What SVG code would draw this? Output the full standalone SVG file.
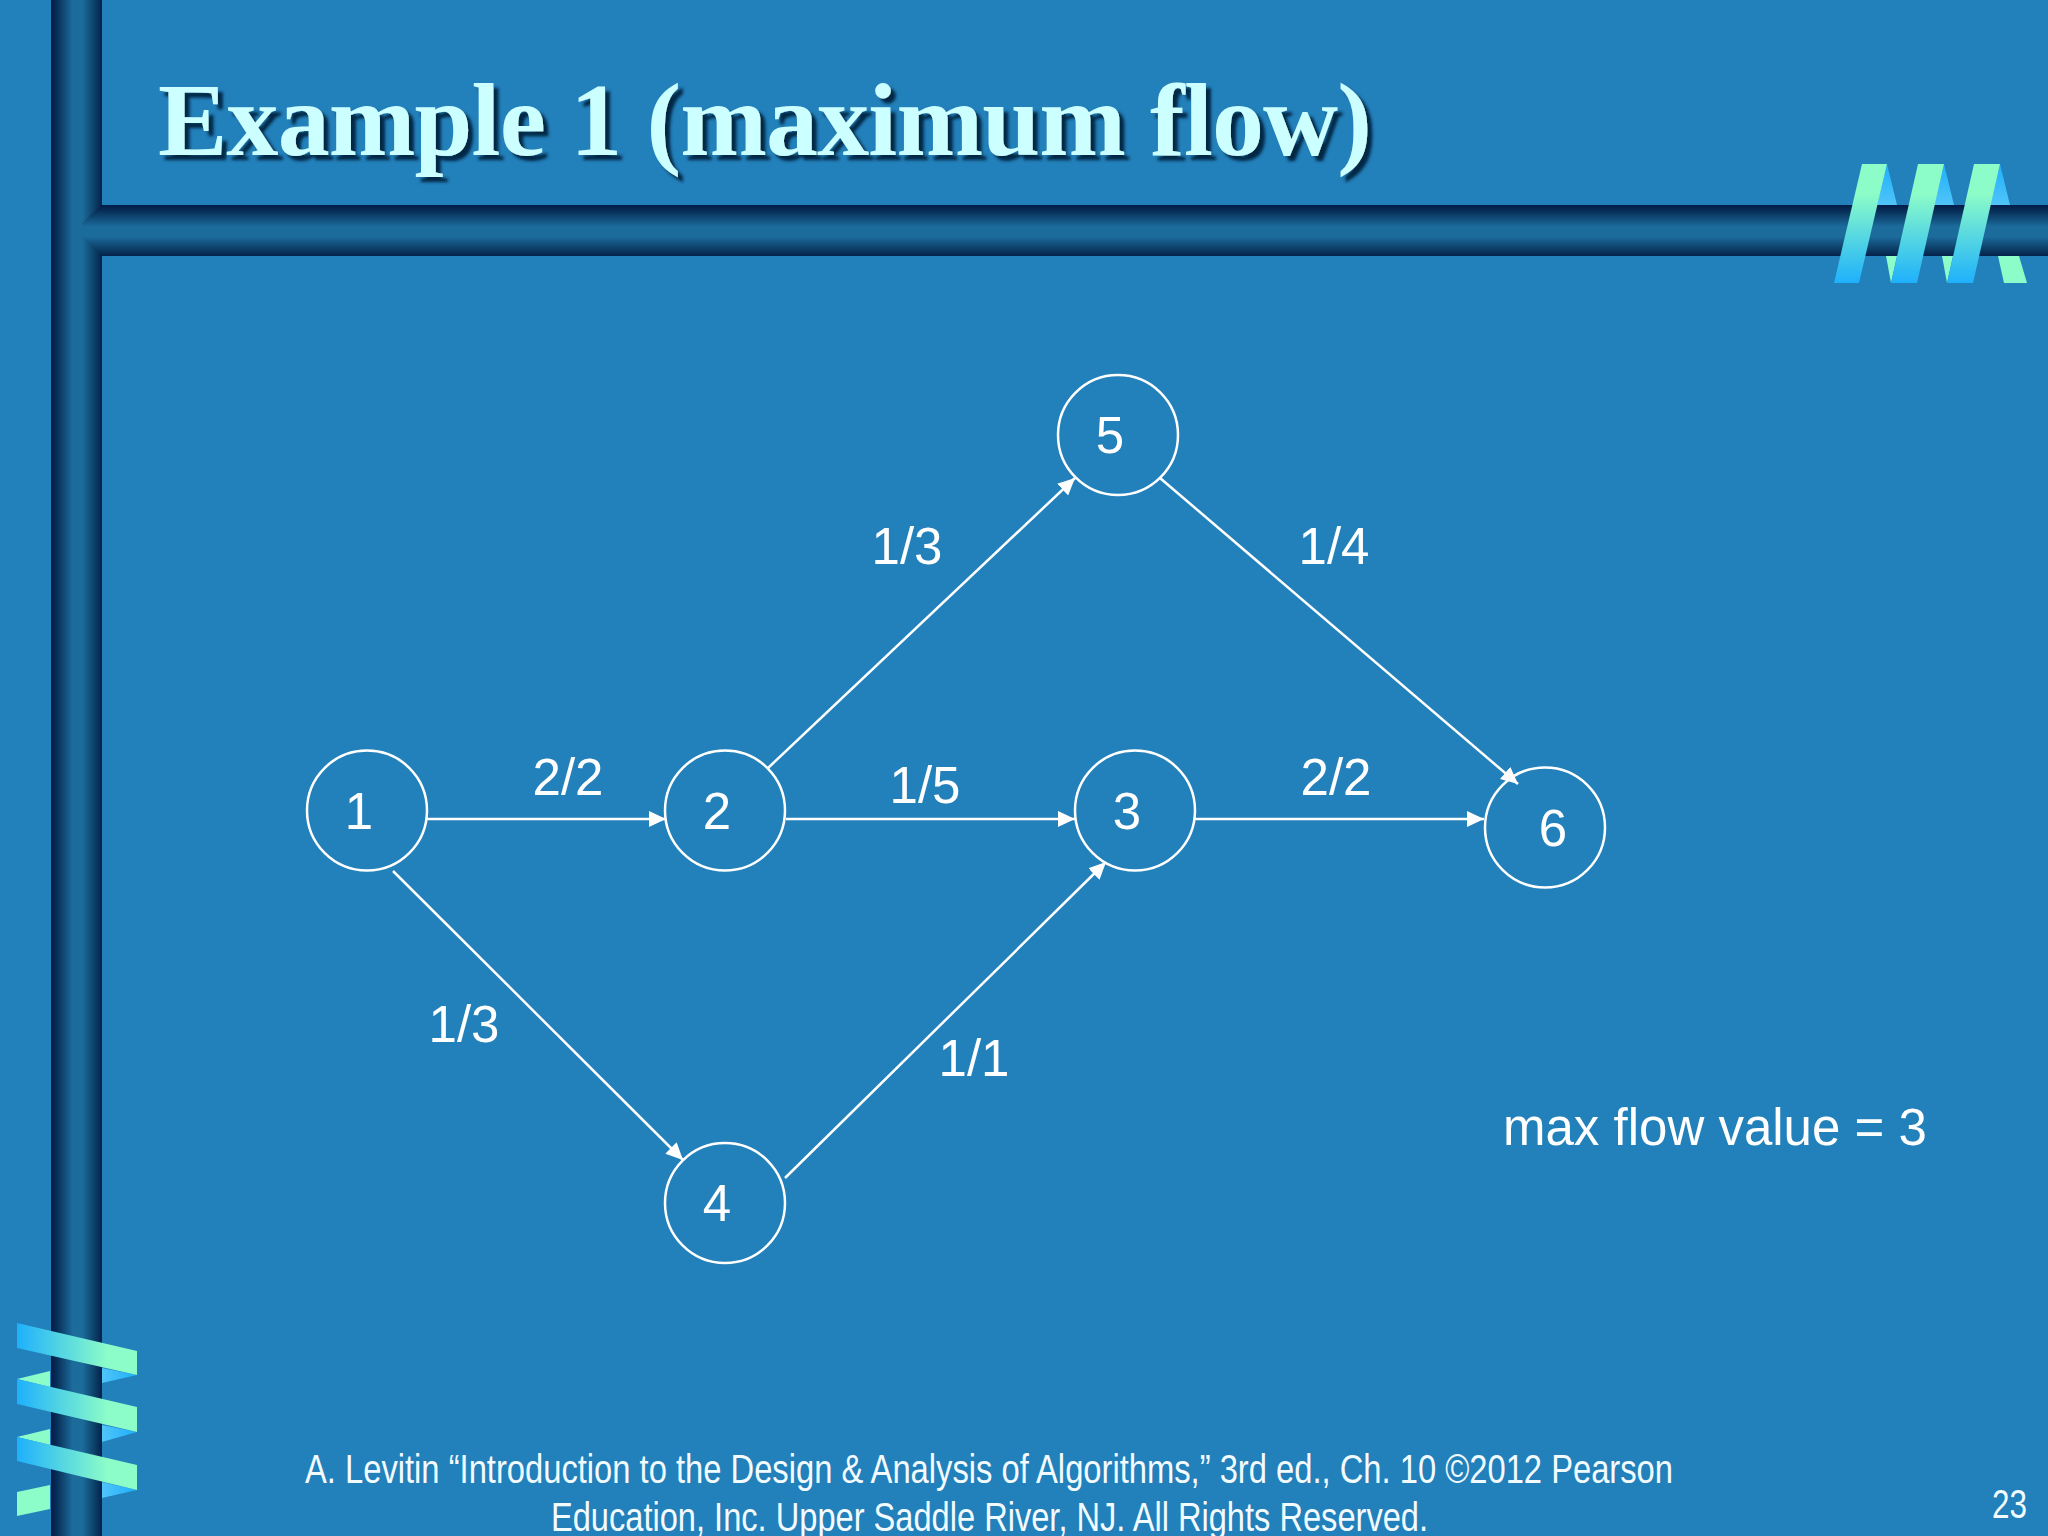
<svg xmlns="http://www.w3.org/2000/svg" width="2048" height="1536" viewBox="0 0 2048 1536">
<defs>
<linearGradient id="barV" x1="0" y1="0" x2="1" y2="0"><stop offset="0" stop-color="#021c48"/><stop offset=".12" stop-color="#072f58"/><stop offset=".42" stop-color="#1b6b9b"/><stop offset=".62" stop-color="#1b6b9b"/><stop offset=".88" stop-color="#0b3a62"/><stop offset="1" stop-color="#04224c"/></linearGradient>
<linearGradient id="barH" x1="0" y1="0" x2="0" y2="1"><stop offset="0" stop-color="#021c48"/><stop offset=".12" stop-color="#072f58"/><stop offset=".42" stop-color="#1b6b9b"/><stop offset=".62" stop-color="#1b6b9b"/><stop offset=".88" stop-color="#0b3a62"/><stop offset="1" stop-color="#04224c"/></linearGradient>
<linearGradient id="ribT" gradientUnits="userSpaceOnUse" x1="0" y1="164" x2="0" y2="283"><stop offset="0" stop-color="#8cfcc8"/><stop offset=".25" stop-color="#8cfcc8"/><stop offset="1" stop-color="#1eb0fc"/></linearGradient>
<linearGradient id="ribB" gradientUnits="userSpaceOnUse" x1="0" y1="164" x2="0" y2="205"><stop offset="0" stop-color="#1eb0fc"/><stop offset="1" stop-color="#50c4f8"/></linearGradient>
<linearGradient id="ribL" gradientUnits="userSpaceOnUse" x1="17" y1="0" x2="137" y2="0"><stop offset="0" stop-color="#1eb0fc"/><stop offset=".75" stop-color="#8cfcc8"/><stop offset="1" stop-color="#8cfcc8"/></linearGradient>
<linearGradient id="ribS" gradientUnits="userSpaceOnUse" x1="102" y1="0" x2="137" y2="0"><stop offset="0" stop-color="#50c4f8"/><stop offset="1" stop-color="#1eb0fc"/></linearGradient>
<marker id="arrow" viewBox="0 0 17 16" refX="17" refY="8" markerWidth="17" markerHeight="16" markerUnits="userSpaceOnUse" orient="auto"><path d="M0 0L17 8L0 16Z" fill="#fff"/></marker>
<filter id="shadow" x="-5%" y="-20%" width="110%" height="140%"><feDropShadow dx="5" dy="5" stdDeviation="1.500" flood-color="#04213f" flood-opacity=".95"/></filter>
</defs>
<style>
.node circle{fill:none;stroke:#fff;stroke-width:2.500}
.lbl{font-family:"Liberation Sans",Arial,sans-serif;font-size:51px;fill:#fff}
.c{text-anchor:middle}
.foot{font-family:"Liberation Sans",Arial,sans-serif;font-size:40px;fill:#f2fbff}
.title{font-family:"Liberation Serif","Times New Roman",serif;font-weight:bold;font-size:104px;fill:#ccffff}
.mint{fill:#8cfcc8}
#connectors line{stroke:#fff;stroke-width:2.500;marker-end:url(#arrow)}
</style>
<rect width="2048" height="1536" fill="#2280ba"/>
<g id="frame">
<rect x="51" y="0" width="51" height="1536" fill="url(#barV)"/>
<path d="M102 205H2048V256H102L82 238V223Z" fill="url(#barH)"/>
</g>
<g id="ribbon-top">
<path d="M1887 164L1897 205H1877Z" fill="url(#ribB)"/>
<path d="M1944 164L1954 205H1934Z" fill="url(#ribB)"/>
<path d="M2000 164L2010 205H1990Z" fill="url(#ribB)"/>
<path class="mint" d="M1886 256H1897L1891 283Z"/>
<path class="mint" d="M1942 256H1953L1947 283Z"/>
<path class="mint" d="M1998 256H2019L2027 283H2004Z"/>
<path fill="url(#ribT)" d="M1862 164H1887L1859 283H1834Z"/>
<path fill="url(#ribT)" d="M1918 164H1944L1917 283H1891Z"/>
<path fill="url(#ribT)" d="M1974 164H2000L1973 283H1947Z"/>
</g>
<g id="ribbon-left">
<path class="mint" d="M17 1379L50 1371V1387Z"/>
<path class="mint" d="M17 1437L50 1429V1445Z"/>
<path class="mint" d="M17 1492L50 1485V1509L17 1516Z"/>
<path fill="url(#ribS)" d="M102 1368L137 1375L102 1383Z"/>
<path fill="url(#ribS)" d="M102 1425L137 1432L102 1442Z"/>
<path fill="url(#ribS)" d="M102 1482L137 1490L102 1498Z"/>
<path fill="url(#ribL)" d="M17 1323L137 1351V1375L17 1348Z"/>
<path fill="url(#ribL)" d="M17 1379L137 1407V1432L17 1404Z"/>
<path fill="url(#ribL)" d="M17 1437L137 1465V1490L17 1461Z"/>
</g>
<text class="title" x="158" y="155" textLength="1214" filter="url(#shadow)">Example 1 (maximum flow)</text>
<g id="connectors">
<line x1="427" y1="819" x2="666" y2="819"/>
<line x1="786" y1="819" x2="1075" y2="819"/>
<line x1="1195" y1="819" x2="1484" y2="819"/>
<line x1="768" y1="768" x2="1075" y2="478"/>
<line x1="1160" y1="478" x2="1518" y2="784"/>
<line x1="393" y1="871" x2="683" y2="1160"/>
<line x1="785" y1="1178" x2="1106" y2="862"/>
</g>
<g id="node-1" class="node"><circle cx="367" cy="810.500" r="60"/><text class="lbl c" x="359" y="829">1</text></g>
<g id="node-2" class="node"><circle cx="725" cy="810.500" r="60"/><text class="lbl c" x="717" y="829">2</text></g>
<g id="node-3" class="node"><circle cx="1135" cy="810.500" r="60"/><text class="lbl c" x="1127" y="829">3</text></g>
<g id="node-4" class="node"><circle cx="725" cy="1203" r="60"/><text class="lbl c" x="717" y="1221">4</text></g>
<g id="node-5" class="node"><circle cx="1118" cy="435" r="60"/><text class="lbl c" x="1110" y="453">5</text></g>
<g id="node-6" class="node"><circle cx="1545" cy="827.500" r="60"/><text class="lbl c" x="1553" y="846">6</text></g>
<g id="edge-labels">
<text class="lbl c" x="568" y="795">2/2</text>
<text class="lbl c" x="925" y="803">1/5</text>
<text class="lbl c" x="1336" y="795">2/2</text>
<text class="lbl c" x="907" y="564">1/3</text>
<text class="lbl c" x="1334" y="564">1/4</text>
<text class="lbl c" x="464" y="1042">1/3</text>
<text class="lbl c" x="974" y="1076">1/1</text>
</g>
<text class="lbl" x="1503" y="1145">max flow value = 3</text>
<text class="foot" x="305" y="1483" textLength="1368" lengthAdjust="spacingAndGlyphs">A. Levitin “Introduction to the Design &amp; Analysis of Algorithms,” 3rd ed., Ch. 10 ©2012 Pearson</text>
<text class="foot" x="551" y="1531" textLength="877" lengthAdjust="spacingAndGlyphs">Education, Inc. Upper Saddle River, NJ. All Rights Reserved.</text>
<text class="foot" x="1992" y="1518" textLength="35" lengthAdjust="spacingAndGlyphs">23</text>
</svg>
